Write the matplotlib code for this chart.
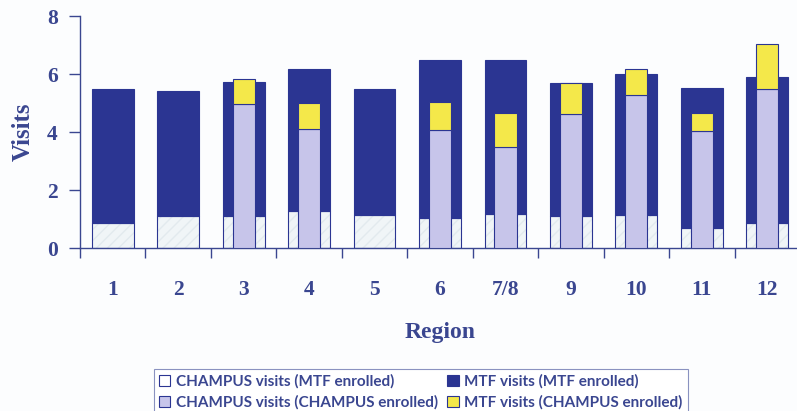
import numpy as np
import matplotlib
matplotlib.use("Agg")
import matplotlib.pyplot as plt
from matplotlib.patches import Patch

REGIONS = ["1", "2", "3", "4", "5", "6", "7/8", "9", "10", "11", "12"]

# MTF enrolled (wide bars)
CHAMPUS_MTF_ENR = [0.86, 1.10, 1.10, 1.28, 1.13, 1.05, 1.16, 1.10, 1.13, 0.68, 0.85]
MTF_MTF_ENR = [4.61, 4.32, 4.62, 4.90, 4.36, 5.43, 5.32, 4.58, 4.88, 4.82, 5.05]

# CHAMPUS enrolled (narrow bars); nan = no data for that region
CHAMPUS_CH_ENR = [np.nan, np.nan, 4.95, 4.10, np.nan, 4.07, 3.49, 4.62, 5.26, 4.03, 5.49]
MTF_CH_ENR = [np.nan, np.nan, 0.88, 0.90, np.nan, 0.95, 1.17, 1.08, 0.91, 0.63, 1.54]

NAVY = "#2b3592"
LAVENDER = "#c7c5ea"
YELLOW = "#f4e84a"
LIGHT = "#f0f5f7"
TEXT = "#3a4690"
EDGE = "#2b3592"


def main():
    fig = plt.figure(figsize=(7.97, 4.11), dpi=100)
    fig.patch.set_facecolor("#fcfdfe")
    W, H = 797, 411
    ax = fig.add_axes([80 / W, (H - 248) / H, 720 / W, 232 / H])
    ax.set_facecolor("none")

    x = np.arange(len(REGIONS))
    wide, narrow = 0.64, 0.34
    cm = np.array(CHAMPUS_MTF_ENR)
    mm = np.array(MTF_MTF_ENR)
    cc = np.array(CHAMPUS_CH_ENR)
    mc = np.array(MTF_CH_ENR)

    # wide bars: faint hatched bottom, navy top
    ax.bar(x, cm, wide, color=LIGHT, hatch="///", edgecolor="#e2eaee", linewidth=0, zorder=2)
    ax.bar(x, cm, wide, fill=False, edgecolor=EDGE, linewidth=0.8, zorder=3)
    ax.bar(x, mm, wide, bottom=cm, color=NAVY, edgecolor=EDGE, linewidth=0.8, zorder=3)

    # narrow bars in front
    ok = ~np.isnan(cc)
    ax.bar(x[ok], cc[ok], narrow, color=LAVENDER, edgecolor=EDGE, linewidth=0.8, zorder=4)
    ax.bar(x[ok], mc[ok], narrow, bottom=cc[ok], color=YELLOW, edgecolor=EDGE, linewidth=0.8, zorder=4)

    ax.set_xlim(-0.5, len(REGIONS) - 0.5)
    ax.set_ylim(0, 8)
    ax.set_yticks([0, 2, 4, 6, 8])
    ax.set_xticks(x)
    ax.set_xticklabels(REGIONS)
    ax.set_xticks(np.arange(len(REGIONS)) - 0.5, minor=True)

    for s in ["top", "right"]:
        ax.spines[s].set_visible(False)
    for s in ["left", "bottom"]:
        ax.spines[s].set_color(TEXT)
        ax.spines[s].set_linewidth(1.0)

    serif = {"family": "Liberation Serif", "weight": "bold"}
    ax.tick_params(axis="x", which="major", length=0, pad=23, colors=TEXT)
    ax.tick_params(axis="x", which="minor", length=7, direction="out", color=TEXT, width=1.0)
    ax.tick_params(axis="y", length=8, direction="out", pad=8, colors=TEXT, width=1.0)
    for lab in ax.get_xticklabels() + ax.get_yticklabels():
        lab.set_fontfamily(serif["family"])
        lab.set_fontweight("bold")
        lab.set_fontsize(15.5)
        lab.set_color(TEXT)

    ax.set_ylabel("Visits", fontsize=18, color=TEXT, labelpad=9, **serif)
    ax.set_xlabel("Region", fontsize=17, color=TEXT, labelpad=16, **serif)

    handles = [
        Patch(facecolor="white", edgecolor=EDGE, linewidth=0.8, label="CHAMPUS visits (MTF enrolled)"),
        Patch(facecolor=LAVENDER, edgecolor=EDGE, linewidth=0.8, label="CHAMPUS visits (CHAMPUS enrolled)"),
        Patch(facecolor=NAVY, edgecolor=EDGE, linewidth=0.8, label="MTF visits (MTF enrolled)"),
        Patch(facecolor=YELLOW, edgecolor=EDGE, linewidth=0.8, label="MTF visits (CHAMPUS enrolled)"),
    ]
    leg = fig.legend(handles=handles, ncol=2, loc="upper left",
                     bbox_to_anchor=(146 / W, (H - 361) / H),
                     frameon=True, fancybox=False, framealpha=1,
                     prop={"family": "Lato", "size": 11, "weight": "bold"},
                     handlelength=0.75, handleheight=0.75, handletextpad=0.35,
                     columnspacing=0.6, labelspacing=0.45, borderpad=0.35)
    leg.get_frame().set_edgecolor("#8a92c0")
    leg.get_frame().set_linewidth(0.8)
    for t in leg.get_texts():
        t.set_color(TEXT)

    fig.savefig("out.png", dpi=100, facecolor=fig.get_facecolor())
    plt.close(fig)


if __name__ == "__main__":
    main()
